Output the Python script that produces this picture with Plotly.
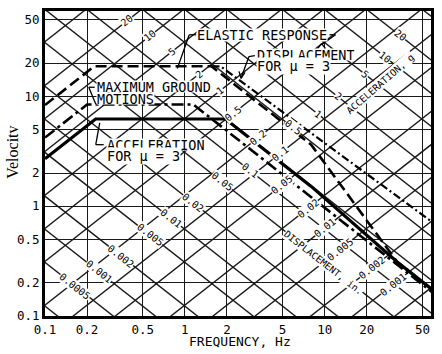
import math
import plotly.graph_objects as go

# ---------------- data ----------------
# frequency in Hz, pseudo-velocity in in/s
ground_f = [0.1, 0.2, 1.15, 60]
ground_v = [4.2, 8.4, 8.4, 0.161]

elastic_f = [0.1, 0.225, 1.55, 8, 33, 60]
elastic_v = [8.3, 18.7, 18.7, 3.62, 0.31, 0.17]

disp_mu3_f = [1.55, 1.8, 60]
disp_mu3_v = [18.7, 18.7, 0.70]

acc_mu3_f = [0.1, 0.23, 1.95, 8, 33, 60]
acc_mu3_v = [2.7, 6.2, 6.2, 1.51, 0.31, 0.17]

tick_vals = [0.1, 0.2, 0.5, 1, 2, 5, 10, 20, 50]
tick_text = ["0.1", "0.2", "0.5", "1", "2", "5", "10", "20", "50"]

# tripartite grid: displacement (in) and acceleration (g) lines
disp_lines = [0.0002, 0.0005, 0.001, 0.002, 0.005, 0.01, 0.02, 0.05, 0.1, 0.2,
              0.5, 1, 2, 5, 10, 20, 50, 100]
acc_lines = [0.0001, 0.0002, 0.0005, 0.001, 0.002, 0.005, 0.01, 0.02, 0.05, 0.1,
             0.2, 0.5, 1, 2, 5, 10, 20, 50, 100]

disp_labels = [20, 10, 5, 2, 1, 0.5, 0.2, 0.1, 0.05, 0.02, 0.01, 0.005, 0.002, 0.001]
disp_label_f = [0.386, 0.565, 0.81, 1.26, 1.79, 2.22, 3.35, 4.81, 4.97, 7.63, 10.1, 12.9, 21.9, 31]

acc_labels = [0.0005, 0.001, 0.002, 0.005, 0.01, 0.02, 0.05, 0.1, 0.5, 1, 2, 5, 10, 20]
acc_label_f = [0.164, 0.243, 0.35, 0.562, 0.80, 1.14, 1.85, 2.93, 5.96, 9.0, 12.5, 19.5, 27.2, 34.8]

G = 386.1  # in/s^2 per g
TWO_PI = 2 * math.pi

# ---------------- layout geometry ----------------
W, H = 442, 354
L, R, T, B = 45, 433, 8, 316
XR = [-1, 1.76]
YR = [-1, 1.775]
MONO = "DejaVu Sans Mono"


def px(x, y):
    return (x - L) / (R - L), (B - y) / (B - T)


fig = go.Figure()

F_LO, F_HI = 0.05, 100
for d in disp_lines:
    fig.add_trace(go.Scatter(x=[F_LO, F_HI], y=[TWO_PI * F_LO * d, TWO_PI * F_HI * d],
                             mode="lines", line=dict(color="#1a1a1a", width=1.4),
                             hoverinfo="skip", showlegend=False))
for a in acc_lines:
    fig.add_trace(go.Scatter(x=[F_LO, F_HI], y=[a * G / (TWO_PI * F_LO), a * G / (TWO_PI * F_HI)],
                             mode="lines", line=dict(color="#1a1a1a", width=1.4),
                             hoverinfo="skip", showlegend=False))

# curves
fig.add_trace(go.Scatter(x=ground_f, y=ground_v, mode="lines", name="Maximum ground motions",
                         line=dict(color="black", width=2.6, dash="12px,4px,3px,4px"),
                         showlegend=False))
fig.add_trace(go.Scatter(x=elastic_f, y=elastic_v, mode="lines", name="Elastic response",
                         line=dict(color="black", width=2.6, dash="11px,5px"),
                         showlegend=False))
fig.add_trace(go.Scatter(x=disp_mu3_f, y=disp_mu3_v, mode="lines", name="Displacement mu=3",
                         line=dict(color="black", width=2.2, dash="8px,3px,2px,3px"),
                         showlegend=False))
fig.add_trace(go.Scatter(x=acc_mu3_f, y=acc_mu3_v, mode="lines", name="Acceleration mu=3",
                         line=dict(color="black", width=3.2),
                         showlegend=False))

annotations = []
# diagonal value labels
for d, f in zip(disp_labels, disp_label_f):
    v = TWO_PI * f * d
    annotations.append(dict(x=math.log10(f), y=math.log10(v), xref="x", yref="y",
                            text=f"{d:g}", showarrow=False, textangle=-38,
                            font=dict(family=MONO, size=10, color="black"),
                            bgcolor="white", borderpad=0))
for a, f in zip(acc_labels, acc_label_f):
    v = a * G / (TWO_PI * f)
    annotations.append(dict(x=math.log10(f), y=math.log10(v), xref="x", yref="y",
                            text=f"{a:g}", showarrow=False, textangle=38,
                            font=dict(family=MONO, size=10, color="black"),
                            bgcolor="white", borderpad=0))


def txt(x, y, s, size=13.5, anchor="left", angle=0, family=MONO, bg="white", h=None):
    xp, yp = px(x, y)
    d = dict(x=xp, y=yp, xref="paper", yref="paper", text=s, showarrow=False,
             xanchor=anchor, yanchor="middle", textangle=angle,
             font=dict(family=family, size=size, color="black"), borderpad=0)
    if bg:
        d["bgcolor"] = bg
    if h:
        d["height"] = h
    annotations.append(d)


txt(197, 32, "ELASTIC RESPONSE", h=12)
txt(257, 51.5, "DISPLACEMENT", h=11)
txt(257, 63.5, "FOR μ = 3")
txt(96, 84.5, "MAXIMUM GROUND", h=11)
txt(96, 96.5, "MOTIONS", h=11)
txt(106, 142.5, "ACCELERATION", h=11)
txt(106, 154.5, "FOR μ = 3")
txt(382, 81, "ACCELERATION, g", size=9.5, anchor="center", angle=-41)
txt(325, 262, "DISPLACEMENT, in.", size=9.5, anchor="center", angle=38)
txt(241, 342, "FREQUENCY, Hz", size=13, anchor="center", bg=None)
txt(12, 151, "Velocitv", size=16, anchor="center", angle=-90, family="Liberation Serif", bg=None)

shapes = []


def seg(x0, y0, x1, y1, w=1.3):
    a0, b0 = px(x0, y0)
    a1, b1 = px(x1, y1)
    shapes.append(dict(type="line", xref="paper", yref="paper", x0=a0, y0=b0, x1=a1, y1=b1,
                       line=dict(color="black", width=w)))


# leaders
seg(197, 32, 190, 32); seg(190, 32, 178, 66)
seg(331, 32, 337, 32); seg(337, 32, 323, 42); seg(319, 46, 323, 41); seg(327, 46, 323, 41)
seg(256, 53, 250, 54); seg(250, 54, 242, 76); seg(242, 76, 240, 69); seg(242, 76, 246, 70)
seg(95, 85, 89, 85); seg(89, 85, 96, 102)
seg(100, 121, 96, 143); seg(96, 143, 104, 143)

axis_common = dict(type="log", tickvals=tick_vals, ticktext=tick_text, ticks="",
                   showgrid=True, gridcolor="#1a1a1a", gridwidth=1.4,
                   showline=True, linecolor="black", linewidth=3, mirror=True,
                   tickfont=dict(family=MONO, size=12.5, color="black"), zeroline=False)

fig.update_layout(
    width=W, height=H,
    margin=dict(l=L, r=W - R, t=T, b=H - B),
    paper_bgcolor="white", plot_bgcolor="white",
    xaxis=dict(range=XR, **axis_common),
    yaxis=dict(range=YR, **axis_common),
    annotations=annotations, shapes=shapes,
    showlegend=False,
)

fig.write_html("out.html")
